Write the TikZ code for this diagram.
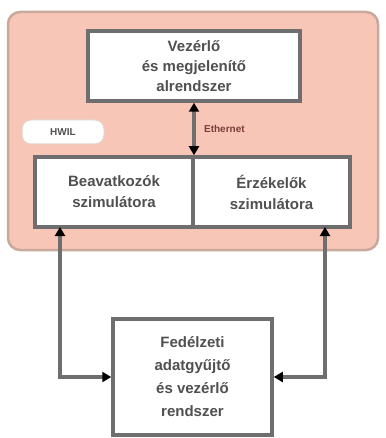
\documentclass[tikz,border=0pt]{standalone}
\usepackage{fontspec}
\setmainfont{Liberation Sans}
\usetikzlibrary{arrows.meta}
\definecolor{pinkbg}{HTML}{F7C6B6}
\definecolor{pinkedge}{HTML}{C8A99C}
\definecolor{boxedge}{HTML}{6E6E6E}
\definecolor{txt}{HTML}{505050}
\begin{document}
\begin{tikzpicture}[x=1pt,y=-1pt,
  box/.style={draw=boxedge,line width=3.5pt,fill=white,align=center,text=txt,inner sep=0pt},
  conn/.style={draw=boxedge,line width=3.5pt,{Triangle[length=9pt,width=10pt,color=black]}-{Triangle[length=9pt,width=10pt,color=black]}},
  lbl/.style={font=\bfseries\fontsize{10}{11}\selectfont,text=txt}]
\useasboundingbox (0,0) rectangle (385,438);
\fill[white] (0,0) rectangle (385,438);
% background region
\draw[fill=pinkbg,draw=pinkedge,line width=2.5pt,rounded corners=12pt] (8,12) rectangle (378,250);
% top box
\node[box,minimum width=212pt,minimum height=70pt,font=\bfseries\fontsize{15}{20}\selectfont] (top) at (194,66)
  {Vezérlő\\és megjelenítő\\alrendszer};
% middle boxes
\node[box,minimum width=158pt,minimum height=70pt,font=\bfseries\fontsize{15}{21}\selectfont] (left) at (114,192)
  {Beavatkozók\\szimulátora};
\node[box,minimum width=157pt,minimum height=70pt,font=\bfseries\fontsize{15}{21}\selectfont] (right) at (271.5,192)
  {Érzékelők\\szimulátora};
\draw[boxedge,line width=2pt] (193,159) -- (193,225);
% pill label
\node[draw=pinkedge!50,line width=1pt,fill=white,rounded corners=9pt,minimum width=82pt,minimum height=24pt,lbl] (pill) at (63,132) {HWIL};
% bottom box
\node[box,minimum width=159pt,minimum height=116pt,font=\bfseries\fontsize{15}{23}\selectfont] (bottom) at (192.5,377)
  {Fedélzeti\\adatgyűjtő\\és vezérlő\\rendszer};
% connectors
\coordinate (ltop) at (60,227);
\coordinate (rtop) at (325,227);
\draw[conn] (top.south) -- (top.south |- left.north) node[midway,right=5pt,lbl,text=txt!75!red] (eth) {Ethernet};
\draw[conn] (ltop) |- (bottom.west);
\draw[conn] (rtop) |- (bottom.east);
\end{tikzpicture}
\end{document}
